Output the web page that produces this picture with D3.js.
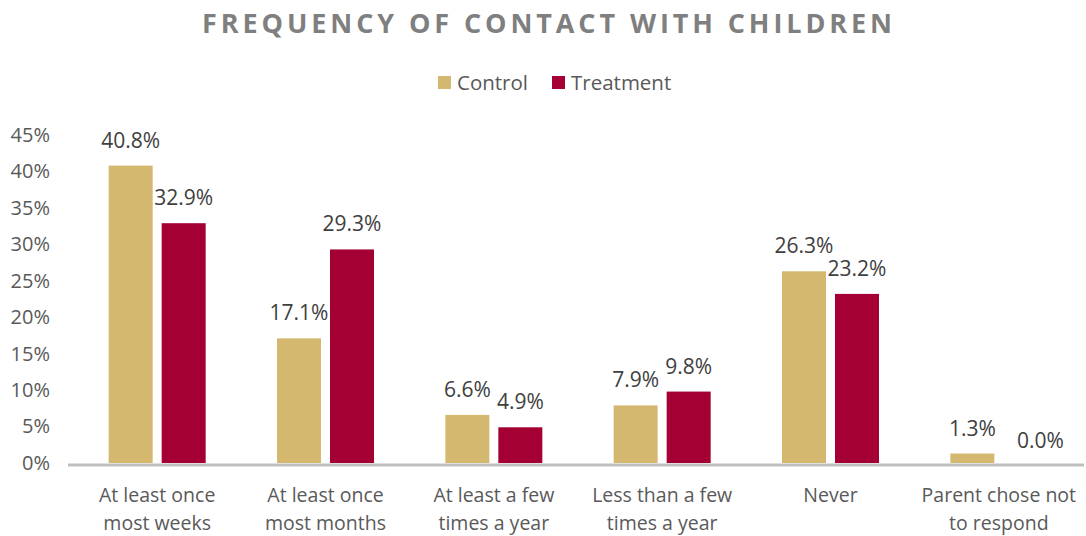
<!DOCTYPE html>
<html><head><meta charset="utf-8">
<script src="https://cdn.jsdelivr.net/npm/d3@7"></script>
<style>body{margin:0;background:#fff}svg{display:block}</style>
</head><body><svg id="c" width="1086" height="536"></svg>
<script>
const categories = [["At least once","most weeks"],["At least once","most months"],["At least a few","times a year"],["Less than a few","times a year"],["Never"],["Parent chose not","to respond"]];
const seriesNames = ["Control","Treatment"];
const control = [40.8,17.1,6.6,7.9,26.3,1.3];
const treatment = [32.9,29.3,4.9,9.8,23.2,0.0];
const yTicks = [0,5,10,15,20,25,30,35,40,45];
const colors = ["#D4B870","#A50034"];

const svg = d3.select("#c");
const font = "'Open Sans', sans-serif";
const x0 = d3.scaleBand().domain(d3.range(categories.length)).range([73,1083]).paddingInner(0).paddingOuter(0);
const y = d3.scaleLinear().domain([0,45]).range([463,135]);
const barW = 44, gap = 9;
const x1 = d3.scaleOrdinal().domain([0,1]).range([-(barW+gap/2), gap/2]);

svg.append("text").attr("x",549).attr("y",33).attr("text-anchor","middle")
  .style("font-family",font).style("font-weight","bold").style("font-size","27px")
  .style("letter-spacing","3.9px").attr("fill","#7F7F7F").text("FREQUENCY OF CONTACT WITH CHILDREN");

// legend
const leg = svg.append("g");
const lx = [438,552];
seriesNames.forEach((n,i)=>{
  leg.append("rect").attr("x",lx[i]).attr("y",76).attr("width",13).attr("height",13).attr("fill",colors[i]);
  leg.append("text").attr("x",lx[i]+19).attr("y",90).style("font-family",font).style("font-size","20.5px").attr("fill","#595959").text(n);
});

// y axis labels
const yAxis = d3.axisLeft(y).tickValues(yTicks).tickFormat(d=>d+"%").tickSize(0).tickPadding(0);
const ga = svg.append("g").attr("transform","translate(50,0)").call(yAxis);
ga.select(".domain").remove();
ga.selectAll("text").style("font-family",font).style("font-size","20px").attr("fill","#595959");

// bars
const data = [control, treatment];
data.forEach((vals,s)=>{
  svg.append("g").selectAll("rect").data(vals).join("rect")
    .attr("x",(d,i)=>x0(i)+x0.bandwidth()/2+x1(s))
    .attr("y",d=>y(d)).attr("width",barW).attr("height",d=>y(0)-y(d)).attr("fill",colors[s]);
  svg.append("g").selectAll("text").data(vals).join("text")
    .attr("x",(d,i)=>x0(i)+x0.bandwidth()/2+x1(s)+barW/2)
    .attr("dx",d=>d===0?15:0)
    .attr("y",d=>y(d)-(d===0?15:18)).attr("text-anchor","middle")
    .style("font-family",font).style("font-size","21px").attr("fill","#404040")
    .text(d=>d.toFixed(1)+"%");
});

// x axis
const xAxis = d3.axisBottom(x0).tickSize(0).tickFormat("");
const gx = svg.append("g").attr("transform","translate(0,465)").call(xAxis);
gx.select(".domain").attr("stroke","#BFBFBF").attr("stroke-width",3).attr("d","M68,0H1084");
categories.forEach((lines,i)=>{
  const t = svg.append("text").attr("x",x0(i)+x0.bandwidth()/2).attr("y",502).attr("text-anchor","middle")
    .style("font-family",font).style("font-size","19.5px").attr("fill","#595959");
  lines.forEach((l,j)=>t.append("tspan").attr("x",x0(i)+x0.bandwidth()/2).attr("dy",j?28:0).text(l));
});
</script></body></html>
